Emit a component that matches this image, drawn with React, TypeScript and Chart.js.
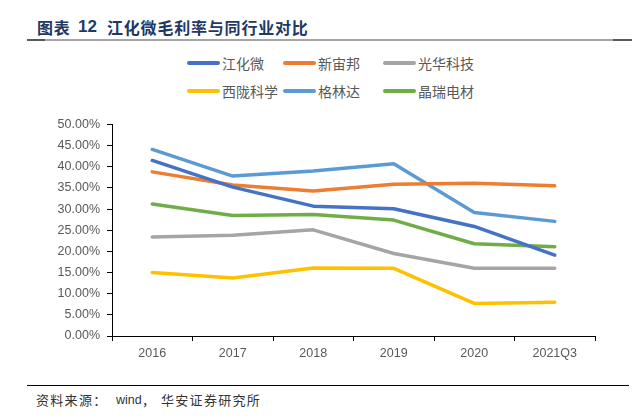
import React, { useEffect, useRef } from "react";
import { Chart, registerables } from "chart.js";

Chart.register(...registerables);

// ---- data ----
const categories = ["2016", "2017", "2018", "2019", "2020", "2021Q3"];
const seriesNames = ["江化微", "新宙邦", "光华科技", "西陇科学", "格林达", "晶瑞电材"];
const jianghuawei = [41.5, 35.2, 30.7, 30.1, 25.9, 19.1];
const xinzhoubang = [38.8, 35.7, 34.3, 35.9, 36.1, 35.5];
const guanghuakeji = [23.4, 23.8, 25.1, 19.5, 16.0, 16.0];
const xilongkexue = [15.0, 13.7, 16.1, 16.0, 7.7, 8.0];
const gelinda = [44.1, 37.8, 39.0, 40.7, 29.2, 27.1];
const jingruidiancai = [31.2, 28.5, 28.7, 27.4, 21.8, 21.1];
const yMin = 0;
const yMax = 50;
const yStep = 5;

const seriesValues = [jianghuawei, xinzhoubang, guanghuakeji, xilongkexue, gelinda, jingruidiancai];
const seriesColors = ["#4472C4", "#ED7D31", "#A5A5A5", "#FFC000", "#5B9BD5", "#70AD47"];

const TICK_FONT = "'Liberation Sans', Arial, sans-serif";
const CJK_FONT = "'Noto Sans CJK SC', 'Noto Sans', sans-serif";

export default function App() {
  const canvasRef = useRef<HTMLCanvasElement | null>(null);

  useEffect(() => {
    if (!canvasRef.current) return;
    const chart = new Chart(canvasRef.current, {
      type: "line",
      data: {
        labels: categories,
        datasets: seriesNames.map((name, i) => ({
          label: name,
          data: seriesValues[i],
          borderColor: seriesColors[i],
          backgroundColor: seriesColors[i],
          borderWidth: 3.5,
          pointRadius: 0,
          pointHoverRadius: 0,
          tension: 0,
          fill: false,
          borderCapStyle: "round" as const,
          borderJoinStyle: "round" as const,
        })),
      },
      options: {
        animation: false,
        responsive: true,
        maintainAspectRatio: false,
        layout: { padding: { top: 10, right: 40, bottom: 0, left: 0 } },
        plugins: {
          legend: { display: false },
          tooltip: { enabled: false },
          title: { display: false },
        },
        scales: {
          x: {
            type: "category",
            offset: true,
            grid: {
              offset: true,
              drawOnChartArea: false,
              drawTicks: true,
              tickLength: 5,
              color: "#000",
              lineWidth: 1,
            },
            border: { display: true, color: "#000", width: 1 },
            ticks: {
              color: "#595959",
              font: { family: TICK_FONT, size: 12.5 },
              padding: 5,
              maxRotation: 0,
              autoSkip: false,
            },
            afterFit: (scale: any) => {
              scale.height = 34;
            },
          },
          y: {
            min: yMin,
            max: yMax,
            grid: {
              drawOnChartArea: false,
              drawTicks: true,
              tickLength: 5,
              color: "#000",
              lineWidth: 1,
            },
            border: { display: true, color: "#000", width: 1 },
            ticks: {
              stepSize: yStep,
              color: "#595959",
              font: { family: TICK_FONT, size: 12.5 },
              padding: 7,
              callback: (v: any) => Number(v).toFixed(2) + "%",
            },
            afterFit: (scale: any) => {
              scale.width = 112;
            },
          },
        },
      },
    });
    return () => chart.destroy();
  }, []);

  const legendCols = [187, 283, 383];
  const legendRows = [63, 91];

  const titleStyle: React.CSSProperties = {
    position: "absolute",
    top: 16,
    height: 22,
    lineHeight: "22px",
    fontFamily: CJK_FONT,
    fontWeight: 700,
    fontSize: 16,
    letterSpacing: 0.8,
    color: "#1F3864",
    whiteSpace: "nowrap",
  };

  const footStyle: React.CSSProperties = {
    position: "absolute",
    top: 390,
    height: 20,
    lineHeight: "20px",
    fontFamily: CJK_FONT,
    fontSize: 13,
    color: "#333",
    whiteSpace: "nowrap",
  };

  return (
    <div
      style={{
        position: "fixed",
        left: 0,
        top: 0,
        width: 635,
        height: 420,
        background: "#fff",
        overflow: "hidden",
      }}
    >
      {/* title */}
      <div style={{ ...titleStyle, left: 37 }}>图表</div>
      <div style={{ ...titleStyle, left: 78, fontFamily: TICK_FONT, fontSize: 17, letterSpacing: 0 }}>12</div>
      <div style={{ ...titleStyle, left: 107 }}>江化微毛利率与同行业对比</div>
      {/* title rule */}
      <div style={{ position: "absolute", left: 27, top: 39, width: 605, height: 2, background: "#A6A6A6" }} />
      <div style={{ position: "absolute", left: 27, top: 39, width: 18, height: 2, background: "#595959" }} />
      <div style={{ position: "absolute", left: 613, top: 39, width: 19, height: 2, background: "#595959" }} />

      {/* legend */}
      {seriesNames.map((name, i) => {
        const col = i % 3;
        const row = Math.floor(i / 3);
        const x = legendCols[col];
        const cy = legendRows[row];
        return (
          <div key={name}>
            <div
              style={{
                position: "absolute",
                left: x,
                top: cy - 2,
                width: 33,
                height: 4,
                borderRadius: 2,
                background: seriesColors[i],
              }}
            />
            <div
              style={{
                position: "absolute",
                left: x + 35,
                top: cy - 11,
                height: 22,
                lineHeight: "22px",
                fontFamily: CJK_FONT,
                fontSize: 14,
                color: "#595959",
                whiteSpace: "nowrap",
              }}
            >
              {name}
            </div>
          </div>
        );
      })}

      {/* chart */}
      <div style={{ position: "absolute", left: 0, top: 110, width: 635, height: 260 }}>
        <canvas ref={canvasRef} />
      </div>

      {/* footer rule */}
      <div style={{ position: "absolute", left: 27, top: 385, width: 602, height: 1, background: "#000" }} />
      {/* footer text */}
      <div style={{ ...footStyle, left: 36, letterSpacing: 1.3 }}>资料来源：</div>
      <div style={{ ...footStyle, left: 116, fontFamily: TICK_FONT, fontSize: 12.5 }}>wind</div>
      <div style={{ ...footStyle, left: 142 }}>，</div>
      <div style={{ ...footStyle, left: 161, letterSpacing: 1.3 }}>华安证券研究所</div>
    </div>
  );
}
